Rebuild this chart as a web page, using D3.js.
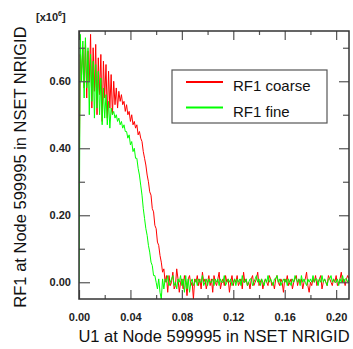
<!DOCTYPE html>
<html>
<head>
<meta charset="utf-8">
<script src="https://cdn.jsdelivr.net/npm/d3@7"></script>
<style>
  body { margin: 0; background: #fff; }
  svg { display: block; font-family: "Liberation Sans", Arial, sans-serif; }
</style>
</head>
<body>
<svg id="chart" width="353" height="349"></svg>
<script>
// U1 samples (shared by both series)
const u1 = [
  0.000, 0.001, 0.002, 0.003, 0.004, 0.005, 0.006, 0.007, 0.008, 0.009,
  0.010, 0.011, 0.012, 0.013, 0.014, 0.015, 0.016, 0.017, 0.018, 0.019,
  0.020, 0.021, 0.022, 0.023, 0.024, 0.025, 0.026, 0.027, 0.028, 0.029,
  0.030, 0.031, 0.032, 0.033, 0.034, 0.035, 0.036, 0.037, 0.038, 0.039,
  0.040, 0.041, 0.042, 0.043, 0.044, 0.045, 0.046, 0.047, 0.048, 0.049,
  0.050, 0.051, 0.052, 0.053, 0.054, 0.055, 0.056, 0.057, 0.058, 0.059,
  0.060, 0.061, 0.062, 0.063, 0.064, 0.065, 0.066, 0.067, 0.068, 0.069,
  0.070, 0.071, 0.072, 0.073, 0.074, 0.075, 0.076, 0.077, 0.078, 0.079,
  0.080, 0.081, 0.082, 0.083, 0.084, 0.085, 0.086, 0.087, 0.088, 0.089,
  0.090, 0.091, 0.092, 0.093, 0.094, 0.095, 0.096, 0.097, 0.098, 0.099,
  0.100, 0.101, 0.102, 0.103, 0.104, 0.105, 0.106, 0.107, 0.108, 0.109,
  0.110, 0.111, 0.112, 0.113, 0.114, 0.115, 0.116, 0.117, 0.118, 0.119,
  0.120, 0.121, 0.122, 0.123, 0.124, 0.125, 0.126, 0.127, 0.128, 0.129,
  0.130, 0.131, 0.132, 0.133, 0.134, 0.135, 0.136, 0.137, 0.138, 0.139,
  0.140, 0.141, 0.142, 0.143, 0.144, 0.145, 0.146, 0.147, 0.148, 0.149,
  0.150, 0.151, 0.152, 0.153, 0.154, 0.155, 0.156, 0.157, 0.158, 0.159,
  0.160, 0.161, 0.162, 0.163, 0.164, 0.165, 0.166, 0.167, 0.168, 0.169,
  0.170, 0.171, 0.172, 0.173, 0.174, 0.175, 0.176, 0.177, 0.178, 0.179,
  0.180, 0.181, 0.182, 0.183, 0.184, 0.185, 0.186, 0.187, 0.188, 0.189,
  0.190, 0.191, 0.192, 0.193, 0.194, 0.195, 0.196, 0.197, 0.198, 0.199,
  0.200, 0.201, 0.202, 0.203, 0.204, 0.205, 0.206, 0.207, 0.208, 0.209,
  0.210
];

// RF1 coarse [x10^6]
const rf1Coarse = [
  0.27, 0.68, 0.62, 0.70, 0.58, 0.72, 0.55, 0.69, 0.60, 0.74,
  0.52, 0.70, 0.57, 0.71, 0.50, 0.67, 0.56, 0.68, 0.48, 0.66,
  0.55, 0.65, 0.49, 0.63, 0.52, 0.62, 0.50, 0.60, 0.53, 0.58,
  0.52, 0.57, 0.54, 0.56, 0.53, 0.54, 0.51, 0.53, 0.50, 0.51,
  0.48, 0.50, 0.47, 0.48, 0.46, 0.47, 0.44, 0.45, 0.43, 0.42,
  0.39, 0.37, 0.35, 0.32, 0.30, 0.27, 0.26, 0.22, 0.21, 0.17,
  0.16, 0.12, 0.11, 0.08, 0.06, 0.03, 0.04, 0.00, 0.02, -0.03,
  0.02, -0.01, 0.00, 0.03, -0.02, -0.01, 0.04, 0.01, -0.03, 0.00,
  0.01, -0.02, 0.02, 0.00, -0.04, 0.01, 0.02, -0.01, 0.00, -0.05,
  0.01, 0.00, 0.02, -0.01, 0.01, -0.02, 0.03, 0.00, 0.01, -0.02,
  0.00, 0.02, -0.01, 0.01, -0.03, 0.02, 0.00, -0.01, 0.01, 0.03,
  -0.02, 0.00, 0.01, -0.01, 0.02, 0.00, 0.01, -0.03, 0.00, 0.02,
  -0.01, 0.01, 0.00, 0.02, -0.01, 0.00, 0.01, -0.02, 0.03, 0.00,
  0.01, -0.01, 0.00, -0.02, 0.01, 0.02, -0.01, 0.00, 0.01, 0.03,
  -0.01, 0.00, 0.01, -0.02, 0.00, 0.01, 0.00, -0.01, 0.02, 0.01,
  -0.01, 0.00, -0.02, 0.01, 0.02, 0.00, -0.01, 0.01, 0.00, -0.03,
  0.01, 0.00, 0.02, -0.01, 0.00, 0.01, -0.02, 0.00, 0.01, 0.02,
  -0.01, 0.01, 0.00, 0.01, -0.02, 0.00, 0.01, 0.03, -0.01, -0.03,
  0.00, -0.01, 0.01, 0.00, 0.02, -0.01, 0.00, 0.01, 0.02, -0.02,
  0.00, 0.01, 0.00, -0.01, 0.02, 0.01, 0.00, -0.01, 0.01, 0.00,
  0.02, -0.01, 0.00, 0.01, 0.03, 0.00, 0.01, -0.01, 0.01, 0.02,
  0.01
];

// RF1 fine [x10^6]
const rf1Fine = [
  0.00, 0.74, 0.60, 0.72, 0.55, 0.73, 0.58, 0.70, 0.50, 0.68,
  0.54, 0.66, 0.49, 0.65, 0.52, 0.63, 0.50, 0.61, 0.47, 0.58,
  0.49, 0.56, 0.47, 0.54, 0.46, 0.52, 0.50, 0.51, 0.49, 0.50,
  0.48, 0.49, 0.47, 0.48, 0.46, 0.47, 0.45, 0.45, 0.43, 0.44,
  0.41, 0.42, 0.39, 0.40, 0.37, 0.37, 0.34, 0.32, 0.29, 0.26,
  0.22, 0.19, 0.16, 0.14, 0.11, 0.09, 0.06, 0.05, 0.02, 0.02,
  0.00, -0.02, 0.01, -0.03, -0.05, 0.01, -0.02, 0.01, 0.00, 0.02,
  -0.01, 0.00, 0.01, 0.02, -0.01, 0.00, -0.02, 0.01, 0.00, 0.02,
  -0.01, 0.01, -0.03, 0.02, -0.02, 0.01, -0.03, 0.00, 0.01, -0.01,
  0.00, 0.01, -0.01, 0.01, 0.00, 0.00, 0.02, -0.01, 0.00, 0.01,
  -0.01, 0.01, 0.00, 0.00, 0.01, -0.01, 0.01, 0.00, 0.01, -0.01,
  0.01, 0.00, 0.00, 0.02, -0.01, 0.00, 0.01, 0.00, 0.01, -0.01,
  0.00, 0.01, -0.01, 0.01, 0.00, 0.01, -0.01, 0.02, 0.00, 0.00,
  0.01, -0.01, 0.00, 0.01, 0.01, -0.01, 0.00, 0.01, 0.02, 0.00,
  0.01, -0.01, 0.01, 0.00, -0.01, 0.01, 0.00, 0.02, 0.00, 0.01,
  0.00, -0.01, 0.01, 0.01, 0.02, 0.00, 0.01, -0.01, 0.00, 0.01,
  0.00, 0.01, -0.01, 0.01, 0.00, -0.01, 0.01, 0.00, 0.02, 0.01,
  0.00, 0.01, -0.01, 0.02, 0.00, 0.01, 0.00, -0.01, 0.01, 0.00,
  0.01, 0.00, 0.02, 0.00, 0.01, 0.01, -0.01, 0.01, 0.00, 0.02,
  0.00, 0.01, 0.00, -0.01, 0.01, 0.01, 0.02, 0.00, 0.01, 0.00,
  0.00, 0.01, -0.01, 0.01, 0.00, 0.02, 0.00, 0.01, 0.01, 0.00,
  0.01
];

const xMajorTicks = [0.00, 0.04, 0.08, 0.12, 0.16, 0.20];
const xMinorTicks = [0.02, 0.06, 0.10, 0.14, 0.18];
const yMajorTicks = [0.00, 0.20, 0.40, 0.60];
const yMinorTicks = [0.10, 0.30, 0.50, 0.70];

const seriesNames = ["RF1 coarse", "RF1 fine"];
const seriesColors = ["#ff0000", "#00ff00"];

const svg = d3.select("#chart");
const margin = { top: 31, right: 4, bottom: 50, left: 79 },
    width = +svg.attr("width") - margin.left - margin.right,
    height = +svg.attr("height") - margin.top - margin.bottom;

const x = d3.scaleLinear().domain([0, 0.21]).range([0, width]);
const y = d3.scaleLinear().domain([-0.05, 0.75]).range([height, 0]);

const g = svg.append("g")
    .attr("transform", "translate(" + margin.left + "," + margin.top + ")");

g.append("clipPath").attr("id", "plot-clip")
    .append("rect").attr("width", width).attr("height", height);

// curves, coarse first so fine sits on top
const line = d3.line()
    .x((d, i) => x(u1[i]))
    .y(d => y(d));

const curves = g.append("g").attr("clip-path", "url(#plot-clip)");
[rf1Coarse, rf1Fine].forEach((series, k) => {
    curves.append("path")
        .datum(series)
        .attr("fill", "none")
        .attr("stroke", seriesColors[k])
        .attr("stroke-width", 1)
        .attr("stroke-linejoin", "round")
        .attr("d", line);
});

// axes, ticks pointing inward
function styleAxis(sel) {
    sel.selectAll(".domain").remove();
    sel.selectAll(".tick line").attr("stroke", "#555").attr("stroke-width", 1.2);
    sel.selectAll(".tick text")
        .attr("fill", "#222")
        .attr("font-size", 11)
        .attr("font-weight", "bold");
}

const fmt = d3.format(".2f");

g.append("g")
    .attr("transform", "translate(0," + height + ")")
    .call(d3.axisBottom(x).tickValues(xMajorTicks).tickFormat(fmt).tickSize(-9).tickPadding(14))
    .call(styleAxis);
g.append("g")
    .attr("transform", "translate(0," + height + ")")
    .call(d3.axisBottom(x).tickValues(xMinorTicks).tickFormat("").tickSize(-4))
    .call(styleAxis);
g.append("g")
    .call(d3.axisTop(x).tickValues(xMajorTicks).tickFormat("").tickSize(-9))
    .call(styleAxis);
g.append("g")
    .call(d3.axisTop(x).tickValues(xMinorTicks).tickFormat("").tickSize(-4))
    .call(styleAxis);

g.append("g")
    .call(d3.axisLeft(y).tickValues(yMajorTicks).tickFormat(fmt).tickSize(-11).tickPadding(8))
    .call(styleAxis);
g.append("g")
    .call(d3.axisLeft(y).tickValues(yMinorTicks).tickFormat("").tickSize(-6))
    .call(styleAxis);
g.append("g")
    .attr("transform", "translate(" + width + ",0)")
    .call(d3.axisRight(y).tickValues(yMajorTicks).tickFormat("").tickSize(-10))
    .call(styleAxis);
g.append("g")
    .attr("transform", "translate(" + width + ",0)")
    .call(d3.axisRight(y).tickValues(yMinorTicks).tickFormat("").tickSize(-6))
    .call(styleAxis);

// frame
g.append("rect")
    .attr("width", width)
    .attr("height", height)
    .attr("fill", "none")
    .attr("stroke", "#333")
    .attr("stroke-width", 1.5);

// scale factor label
const scaleLabel = svg.append("text")
    .attr("x", 36)
    .attr("y", 21)
    .attr("font-size", 11)
    .attr("font-weight", "bold")
    .attr("fill", "#222");
scaleLabel.append("tspan").text("[x10");
scaleLabel.append("tspan").attr("font-size", 7).attr("dy", -5).text("6");
scaleLabel.append("tspan").attr("dy", 5).text("]");

// axis titles
svg.append("text")
    .attr("x", margin.left + width / 2)
    .attr("y", 342)
    .attr("text-anchor", "middle")
    .attr("font-size", 16.5)
    .attr("fill", "#111")
    .text("U1 at Node 599995 in NSET NRIGID");

svg.append("text")
    .attr("transform", "translate(25.5," + (margin.top + height / 2 + 2) + ") rotate(-90)")
    .attr("text-anchor", "middle")
    .attr("font-size", 16.5)
    .attr("fill", "#111")
    .text("RF1 at Node 599995 in NSET NRIGID");

// legend
const legend = svg.append("g").attr("transform", "translate(172,70)");
legend.append("rect")
    .attr("width", 155)
    .attr("height", 53)
    .attr("fill", "#fff")
    .attr("stroke", "#555")
    .attr("stroke-width", 1.2);
seriesNames.forEach((name, i) => {
    const row = legend.append("g").attr("transform", "translate(0," + (12 + i * 25.5) + ")");
    row.append("line")
        .attr("x1", 14).attr("x2", 51)
        .attr("stroke", seriesColors[i])
        .attr("stroke-width", 2);
    row.append("text")
        .attr("x", 61)
        .attr("y", 9)
        .attr("font-size", 15)
        .attr("fill", "#111")
        .text(name);
});
</script>
</body>
</html>
